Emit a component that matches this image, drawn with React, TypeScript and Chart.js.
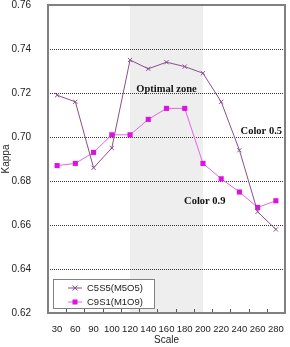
import React, { useEffect, useRef } from "react";
import { Chart, registerables } from "chart.js";

Chart.register(...registerables);

const categories = ["30", "60", "90", "100", "120", "140", "160", "180", "200", "220", "240", "260", "280"];
const c5s5 = [0.719, 0.716, 0.686, 0.695, 0.735, 0.731, 0.734, 0.732, 0.729, 0.716, 0.694, 0.666, 0.658];
const c9s1 = [0.687, 0.688, 0.693, 0.701, 0.701, 0.708, 0.713, 0.713, 0.688, 0.681, 0.675, 0.668, 0.671];
const seriesNames = ["C5S5(M5O5)", "C9S1(M1O9)"];
const yTicks = [0.62, 0.64, 0.66, 0.68, 0.7, 0.72, 0.74, 0.76];
const zoneStart = 4;
const zoneEnd = 8;
const annotations = [
  { text: "Optimal zone", cat: 6.0, value: 0.7215 },
  { text: "Color 0.5", cat: 11.2, value: 0.7025 },
  { text: "Color 0.9", cat: 8.1, value: 0.6708 },
];

const C5_LINE = "#8b4f8b";
const C9_LINE = "#e466e4";
const C9_POINT = "#e010e0";
const SANS = "'Liberation Sans', Arial, sans-serif";

const customPlugin = {
  id: "custom",
  beforeDraw(chart: any) {
    const { ctx, chartArea, scales } = chart;
    const x = scales.x;
    const y = scales.y;
    const x0 = x.getPixelForValue(zoneStart);
    const x1 = x.getPixelForValue(zoneEnd);
    ctx.save();
    ctx.fillStyle = "#eeeeee";
    ctx.fillRect(x0, chartArea.top, x1 - x0, chartArea.bottom - chartArea.top);
    // dotted grid lines
    ctx.strokeStyle = "#333333";
    ctx.lineWidth = 1;
    ctx.setLineDash([1, 1]);
    for (const t of yTicks) {
      const py = Math.round(y.getPixelForValue(t)) + 0.5;
      ctx.beginPath();
      ctx.moveTo(chartArea.left, py);
      ctx.lineTo(chartArea.right, py);
      ctx.stroke();
    }
    ctx.restore();
  },
  afterDraw(chart: any) {
    const { ctx, chartArea, scales } = chart;
    const x = scales.x;
    const y = scales.y;
    ctx.save();
    // inner ticks at category boundaries
    ctx.strokeStyle = "#555555";
    ctx.lineWidth = 1;
    for (let i = 0; i < categories.length - 1; i++) {
      const px = Math.round((x.getPixelForValue(i) + x.getPixelForValue(i + 1)) / 2) + 0.5;
      ctx.beginPath();
      ctx.moveTo(px, chartArea.bottom);
      ctx.lineTo(px, chartArea.bottom - 4);
      ctx.stroke();
    }
    // plot border
    ctx.strokeStyle = "#808080";
    ctx.lineWidth = 2;
    ctx.strokeRect(chartArea.left, chartArea.top, chartArea.right - chartArea.left, chartArea.bottom - chartArea.top);
    // annotations
    ctx.fillStyle = "#111111";
    ctx.font = "bold 10.5px 'Liberation Serif', 'Times New Roman', serif";
    ctx.textAlign = "center";
    ctx.textBaseline = "middle";
    for (const a of annotations) {
      ctx.fillText(a.text, x.getPixelForValue(a.cat), y.getPixelForValue(a.value));
    }
    // legend box
    const bx = chartArea.left + 5;
    const by = chartArea.bottom - 34;
    const bw = 101;
    const bh = 29;
    ctx.fillStyle = "#ffffff";
    ctx.fillRect(bx, by, bw, bh);
    ctx.strokeStyle = "#808080";
    ctx.lineWidth = 1;
    ctx.strokeRect(bx + 0.5, by + 0.5, bw, bh);
    const rows = [
      { name: seriesNames[0], line: C5_LINE, pt: C5_LINE, style: "x" },
      { name: seriesNames[1], line: C9_LINE, pt: C9_POINT, style: "sq" },
    ];
    ctx.font = "9.5px " + SANS;
    ctx.textAlign = "left";
    rows.forEach((r, i) => {
      const ry = by + 9 + i * 14;
      ctx.strokeStyle = r.line;
      ctx.lineWidth = 1;
      ctx.beginPath();
      ctx.moveTo(bx + 15, ry);
      ctx.lineTo(bx + 29, ry);
      ctx.stroke();
      const mx = bx + 22;
      if (r.style === "x") {
        ctx.strokeStyle = r.pt;
        ctx.beginPath();
        ctx.moveTo(mx - 2.5, ry - 2.5);
        ctx.lineTo(mx + 2.5, ry + 2.5);
        ctx.moveTo(mx + 2.5, ry - 2.5);
        ctx.lineTo(mx - 2.5, ry + 2.5);
        ctx.stroke();
      } else {
        ctx.fillStyle = r.pt;
        ctx.fillRect(mx - 2.5, ry - 2.5, 5, 5);
      }
      ctx.fillStyle = "#222222";
      ctx.fillText(r.name, bx + 34, ry + 0.5);
    });
    ctx.restore();
  },
};

export default function App() {
  const ref = useRef<HTMLCanvasElement | null>(null);
  useEffect(() => {
    document.body.style.margin = "0";
    if (!ref.current) return;
    const chart = new Chart(ref.current, {
      type: "line",
      data: {
        labels: categories,
        datasets: [
          {
            label: seriesNames[0],
            data: c5s5,
            borderColor: C5_LINE,
            backgroundColor: C5_LINE,
            borderWidth: 1,
            pointStyle: "crossRot",
            pointRadius: 3,
            pointBorderWidth: 1,
            pointBorderColor: C5_LINE,
            tension: 0,
          },
          {
            label: seriesNames[1],
            data: c9s1,
            borderColor: C9_LINE,
            backgroundColor: C9_POINT,
            borderWidth: 1,
            pointStyle: "rect",
            pointRadius: 3.6,
            pointBorderWidth: 0,
            pointBackgroundColor: C9_POINT,
            tension: 0,
          },
        ],
      },
      options: {
        animation: false,
        responsive: false,
        layout: { padding: { top: 0, right: 4, left: 0, bottom: 0 } },
        plugins: { legend: { display: false }, tooltip: { enabled: false } },
        scales: {
          x: {
            type: "category",
            offset: true,
            grid: { display: false },
            border: { display: false },
            ticks: {
              color: "#222222",
              font: { family: SANS, size: 9.5 },
              padding: 3,
              maxRotation: 0,
              autoSkip: false,
            },
            title: {
              display: true,
              text: "Scale",
              color: "#222222",
              font: { family: SANS, size: 10 },
              padding: { top: 0, bottom: 1 },
            },
            afterFit: (s: any) => {
              s.height = 34;
              s.paddingLeft = 0;
              s.paddingRight = 0;
            },
          },
          y: {
            min: 0.62,
            max: 0.76,
            grid: { display: false },
            border: { display: false },
            ticks: {
              stepSize: 0.02,
              color: "#222222",
              font: { family: SANS, size: 10 },
              padding: 9,
              callback: (v: any) => Number(v).toFixed(2),
            },
            title: {
              display: true,
              text: "Kappa",
              color: "#222222",
              font: { family: SANS, size: 10 },
              padding: { top: 0, bottom: 2 },
            },
            afterFit: (s: any) => {
              s.width = 48;
              s.paddingTop = 5;
              s.paddingBottom = 0;
            },
          },
        },
      } as any,
      plugins: [customPlugin],
    });
    return () => chart.destroy();
  }, []);
  return (
    <div style={{ width: 290, height: 347 }}>
      <canvas ref={ref} width={290} height={347} style={{ display: "block" }} />
    </div>
  );
}
